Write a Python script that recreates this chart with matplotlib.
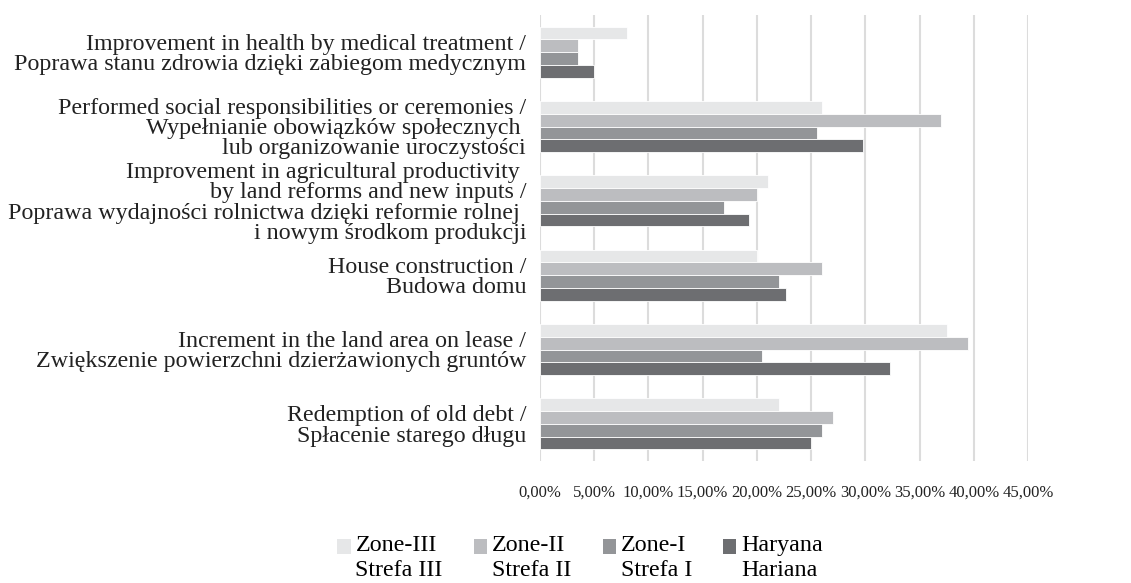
import numpy as np
import matplotlib
matplotlib.use("Agg")
import matplotlib.pyplot as plt
from matplotlib.patches import Rectangle
from matplotlib.legend_handler import HandlerPatch

plt.rcParams['font.family'] = ['Liberation Serif', 'DejaVu Serif']

# Kategorie (od góry)
categories = [
    "Improvement in health by medical treatment /\nPoprawa stanu zdrowia dzięki zabiegom medycznym",
    "Performed social responsibilities or ceremonies /\nWypełnianie obowiązków społecznych \nlub organizowanie uroczystości",
    "Improvement in agricultural productivity \nby land reforms and new inputs /\nPoprawa wydajności rolnictwa dzięki reformie rolnej \ni nowym środkom produkcji",
    "House construction /\nBudowa domu",
    "Increment in the land area on lease /\nZwiększenie powierzchni dzierżawionych gruntów",
    "Redemption of old debt /\nSpłacenie starego długu",
]

series_labels = ["Zone-III\nStrefa III", "Zone-II\nStrefa II", "Zone-I\nStrefa I", "Haryana\nHariana"]

# Hodnoty v %
zone3 = [8.0, 26.0, 21.0, 20.0, 37.5, 22.0]
zone2 = [3.5, 37.0, 20.0, 26.0, 39.5, 27.0]
zone1 = [3.5, 25.5, 17.0, 22.0, 20.5, 26.0]
haryana = [5.0, 29.8, 19.3, 22.7, 32.3, 25.0]

colors = ["#e6e7e8", "#bcbdc0", "#939598", "#6d6e71"]
x_ticks = [0, 5, 10, 15, 20, 25, 30, 35, 40, 45]


class ShiftedSquare(HandlerPatch):
    # čtvereček v legendě zarovnaný k prvnímu řádku
    def create_artists(self, legend, orig_handle, xdescent, ydescent, width, height, fontsize, trans):
        p = Rectangle((-xdescent, -ydescent + 0.45 * fontsize), width, height,
                      facecolor=orig_handle.get_facecolor(), edgecolor="none", transform=trans)
        return [p]


fig = plt.figure(figsize=(11.31, 5.83), dpi=100)
ax = fig.add_axes([540 / 1131, 1 - 461 / 583, (1028 - 540) / 1131, (461 - 15) / 583])

y = np.arange(len(categories))
h = 0.172
all_series = [zone3, zone2, zone1, haryana]
handles = []
for i, (vals, c) in enumerate(zip(all_series, colors)):
    b = ax.barh(y + (i - 1.5) * h, vals, height=h, color=c, edgecolor="white", linewidth=0.6, zorder=3)
    handles.append(b.patches[0])

ax.set_xlim(0, 45)
ax.set_ylim(5.5, -0.5)
ax.set_xticks(x_ticks)
ax.set_xticklabels([f"{v:.2f}%".replace(".", ",") for v in x_ticks], fontsize=12, color="#222222")
ax.set_yticks(y)
ax.set_yticklabels(categories, fontsize=17.3, color="#222222", linespacing=0.95, multialignment="right")
ax.tick_params(axis="both", length=0)
ax.tick_params(axis="x", pad=17)
ax.tick_params(axis="y", pad=10)
ax.grid(axis="x", color="#dcdcdc", linewidth=1.5, zorder=0)
for s in ax.spines.values():
    s.set_visible(False)

fig.legend(handles, series_labels, loc="center", bbox_to_anchor=(0.513, 0.043), ncol=4,
           frameon=False, fontsize=17.3, handlelength=0.55, handleheight=0.55,
           handletextpad=0.2, columnspacing=1.3, labelspacing=0.2,
           handler_map={Rectangle: ShiftedSquare()})

fig.savefig("out.png", dpi=100)
